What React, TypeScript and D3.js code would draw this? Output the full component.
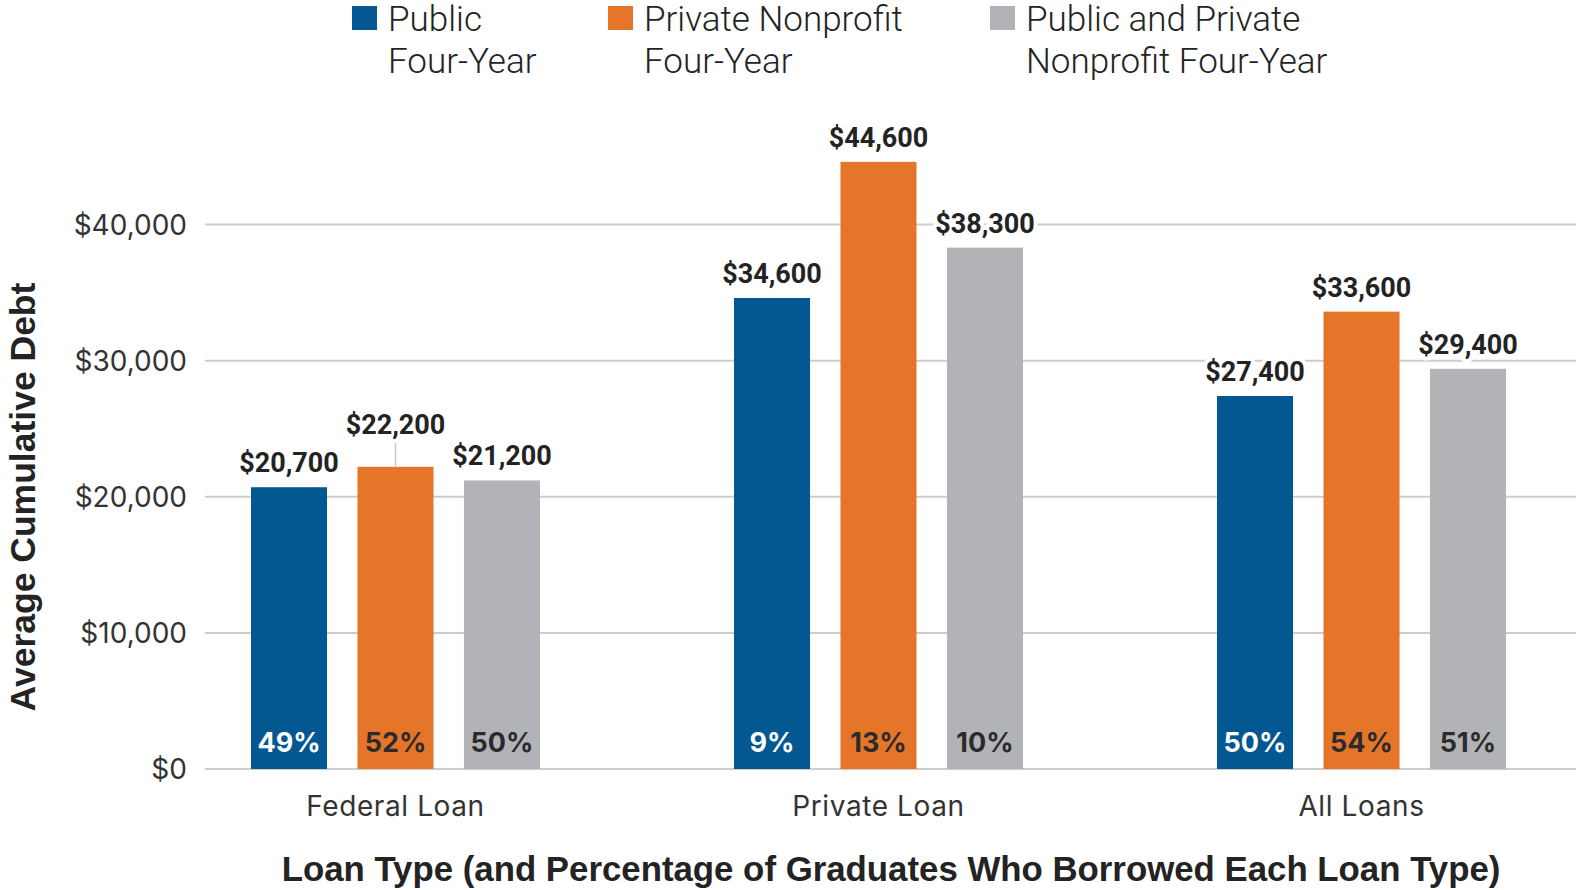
import { useEffect } from "react";
import * as d3 from "d3";

// categories and series
const categories = ["Federal Loan", "Private Loan", "All Loans"];
const seriesKeys = ["public", "private", "combined"];
const legendLines = [
  ["Public", "Four-Year"],
  ["Private Nonprofit", "Four-Year"],
  ["Public and Private", "Nonprofit Four-Year"],
];

// average cumulative debt, by loan type
const publicDebt = [20700, 34600, 27400];
const privateDebt = [22200, 44600, 33600];
const combinedDebt = [21200, 38300, 29400];

// percentage of graduates who borrowed each loan type
const publicShare = [49, 9, 50];
const privateShare = [52, 13, 54];
const combinedShare = [50, 10, 51];

const yTicks = [0, 10000, 20000, 30000, 40000];

const colors = ["#035892", "#e57528", "#b2b3b6"];
const shareColors = ["#ffffff", "#2b2b2b", "#2b2b2b"];
const ink = "#232323";

const width = 1576;
const height = 890;

export default function App() {
  useEffect(() => {
    document.body.style.margin = "0";
  }, []);

  const debt = [publicDebt, privateDebt, combinedDebt];
  const share = [publicShare, privateShare, combinedShare];

  const y = d3.scaleLinear().domain([0, 40000]).range([769, 224.5]);
  const x0 = d3.scaleBand().domain(categories).range([251, 1506]).paddingInner(0.4017).paddingOuter(0);
  const x1 = d3.scaleBand().domain(seriesKeys).range([0, x0.bandwidth()]).paddingInner(0.286).paddingOuter(0);
  const fmt = d3.format("$,");

  const legendX = [352, 608, 990];

  return (
    <svg width={width} height={height} style={{ display: "block", background: "#fff" }}>
      {/* legend */}
      {legendLines.map((lines, i) => (
        <g key={i} transform={`translate(${legendX[i]},0)`}>
          <rect x={0} y={6} width={25} height={24} fill={colors[i]} />
          {lines.map((t, j) => (
            <text
              key={j}
              x={36}
              y={31 + j * 42}
              fontFamily="Roboto"
              fontWeight={300}
              fontSize={35}
              fill={ink}
            >
              {t}
            </text>
          ))}
        </g>
      ))}

      {/* gridlines and y ticks */}
      {yTicks.map((t) => (
        <g key={t}>
          <line x1={205} x2={width} y1={y(t)} y2={y(t)} stroke="#cdcdcd" strokeWidth={2} />
          <text
            x={187}
            y={y(t) + 10}
            textAnchor="end"
            fontFamily="Inter"
            fontWeight={400}
            fontSize={28}
            fill="#333"
          >
            {fmt(t)}
          </text>
        </g>
      ))}

      {/* bars */}
      {categories.map((c, ci) => (
        <g key={c} transform={`translate(${x0(c)},0)`}>
          {seriesKeys.map((s, si) => {
            const v = debt[si][ci];
            const bx = x1(s)!;
            const cx = bx + x1.bandwidth() / 2;
            const lifted = ci === 0 && si === 1;
            const ly = y(v) - 15 - (lifted ? 18 : 0);
            return (
              <g key={s}>
                <rect x={bx} y={y(v)} width={x1.bandwidth()} height={y(0) - y(v)} fill={colors[si]} />
                {lifted && (
                  <line x1={cx} x2={cx} y1={ly + 6} y2={y(v)} stroke="#c8c8c8" strokeWidth={1.5} />
                )}
                <text
                  x={cx}
                  y={ly}
                  textAnchor="middle"
                  fontFamily="Roboto"
                  fontWeight={700}
                  fontSize={27}
                  fill={ink}
                  stroke="#fff"
                  strokeWidth={8}
                  strokeLinejoin="round"
                  paintOrder="stroke"
                >
                  {fmt(v)}
                </text>
                <text
                  x={cx}
                  y={y(0) - 17}
                  textAnchor="middle"
                  fontFamily="Inter"
                  fontWeight={700}
                  fontSize={27}
                  fill={shareColors[si]}
                >
                  {share[si][ci]}%
                </text>
              </g>
            );
          })}
          <text
            x={x0.bandwidth() / 2}
            y={816}
            textAnchor="middle"
            fontFamily="Inter"
            fontWeight={400}
            fontSize={28}
            letterSpacing={0.6}
            fill="#333"
          >
            {c}
          </text>
        </g>
      ))}

      {/* axis titles */}
      <text
        transform={`translate(35,497) rotate(-90)`}
        textAnchor="middle"
        fontFamily="Liberation Sans"
        fontWeight={700}
        fontSize={35.5}
        fill={ink}
      >
        Average Cumulative Debt
      </text>
      <text
        x={891}
        y={881}
        textAnchor="middle"
        fontFamily="Liberation Sans"
        fontWeight={700}
        fontSize={34.8}
        fill={ink}
      >
        Loan Type (and Percentage of Graduates Who Borrowed Each Loan Type)
      </text>
    </svg>
  );
}
